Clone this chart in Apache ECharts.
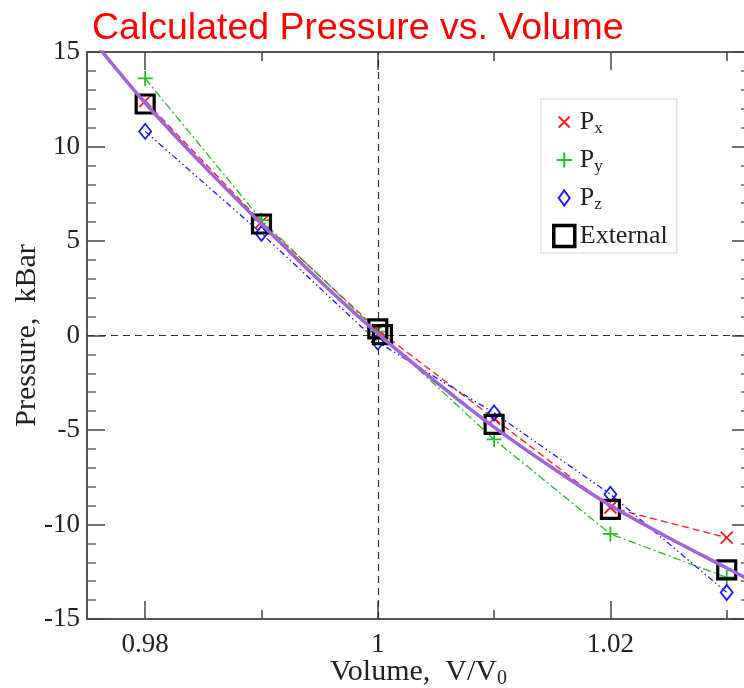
<!DOCTYPE html>
<html><head><meta charset="utf-8">
<script src="https://cdn.jsdelivr.net/npm/echarts@6/dist/echarts.min.js"></script>
<style>html,body{margin:0;padding:0;background:#fff}#c{width:744px;height:688px}</style>
</head><body><div id="c"></div>
<script>
// ---- data ----
const volumes = [0.98, 0.99, 1.0, 1.01, 1.02, 1.03];
const pxVals = [12.4, 6.0, 0.3, -4.4, -9.1, -10.7];
const pyVals = [13.6, 6.1, 0.2, -5.5, -10.5, -12.8];
const pzVals = [10.8, 5.4, -0.35, -4.1, -8.4, -13.6];
const extVolumes = [0.98, 0.99, 1.0, 1.0004, 1.01, 1.02, 1.03];
const extVals = [12.25, 5.9, 0.35, 0.05, -4.7, -9.2, -12.4];
const fitVolumes = [0.975, 0.98, 0.985, 0.99, 0.995, 1.0, 1.005, 1.01, 1.015, 1.02, 1.025, 1.03, 1.032];
const fitVals = [16.0, 12.3, 9.0, 5.9, 2.9, 0.1, -2.45, -4.85, -7.0, -9.0, -10.7, -12.3, -12.95];
const xMajorTicks = [0.98, 1.0, 1.02];
const xMinorTicks = [0.99, 1.01, 1.03];
const xRange = [0.975, 1.032];
const yRange = [-15, 15];
const yStep = 5;
const seriesNames = ['Px', 'Py', 'Pz', 'External'];

const zip = (a, b) => a.map((v, i) => [v, b[i]]);
const serif = '"Liberation Serif", "DejaVu Serif", serif';
const axisColor = '#555';
const RED = '#ff1a1a', GREEN = '#22bb22', BLUE = '#1a1aff', PURPLE = '#a064dc';

const gridRect = { left: 87, top: 52, width: 663, height: 567, outerBoundsMode: 'none', containLabel: false };

function xAxisDef(pos, gridIndex, ticks, len, main) {
  return {
    type: 'value', gridIndex, position: pos, min: xRange[0], max: xRange[1],
    axisLine: { show: main, onZero: false, lineStyle: { color: axisColor, width: 2 } },
    axisTick: { show: true, inside: true, length: len, customValues: ticks, lineStyle: { color: '#444', width: 1.5 } },
    axisLabel: (main && pos === 'bottom') ? {
      show: true, customValues: ticks, fontFamily: serif, fontSize: 27, color: '#222', margin: 12,
      formatter: v => String(+v.toFixed(4))
    } : { show: false },
    splitLine: { show: false },
    minorTick: { show: false }
  };
}
function yAxisDef(pos, gridIndex, show) {
  return {
    type: 'value', gridIndex, position: pos, min: yRange[0], max: yRange[1], interval: yStep, show,
    axisLine: { show: true, onZero: false, lineStyle: { color: axisColor, width: 2 } },
    axisTick: { show: true, inside: true, length: 18, lineStyle: { color: '#444', width: 1.5 } },
    minorTick: { show: true, splitNumber: 5, length: 9, lineStyle: { color: '#666', width: 1.5 } },
    axisLabel: pos === 'left' ? { show: true, fontFamily: serif, fontSize: 27, color: '#222', margin: 7 } : { show: false },
    splitLine: { show: false }
  };
}

const xAxes = [
  xAxisDef('bottom', 0, xMajorTicks, 18, true),
  xAxisDef('top', 0, xMajorTicks, 18, true),
  xAxisDef('bottom', 1, xMinorTicks, 9, false),
  xAxisDef('top', 1, xMinorTicks, 9, false)
];
Object.assign(xAxes[0], {
  name: '{n|Volume,  V/V}{s|0}', nameLocation: 'middle', nameGap: 36, nameMoveOverlap: false,
  nameTextStyle: { rich: {
    n: { fontFamily: serif, fontSize: 30, color: '#222', lineHeight: 34 },
    s: { fontFamily: serif, fontSize: 20, color: '#222', lineHeight: 2, verticalAlign: 'bottom' }
  } }
});
const yAxes = [yAxisDef('left', 0, true), yAxisDef('right', 0, true), yAxisDef('left', 1, false)];
Object.assign(yAxes[0], {
  name: 'Pressure,  kBar', nameLocation: 'middle', nameGap: 45, nameMoveOverlap: false,
  nameTextStyle: { fontFamily: serif, fontSize: 30, color: '#222' }
});

const symX = 'path://M0,0L10,10M10,0L0,10';
const symPlus = 'path://M5,0L5,10M0,5L10,5';
const legX = 'path://M0,0L0,0M5,5L16,16M16,5L5,16M21,21L21,21';
const legPlus = 'path://M0,0L0,0M10.5,3L10.5,18M3,10.5L18,10.5M21,21L21,21';
const legDiamond = 'path://M0,0L0,0M10.5,3L16,10.5L10.5,18L5,10.5ZM21,21L21,21';

function dashLine(name, vals, color, type, extra) {
  return Object.assign({
    name, type: 'line', data: zip(volumes, vals), symbol: 'none', z: 2,
    lineStyle: { color, width: 1.3, type }, itemStyle: { color }, silent: true
  }, extra || {});
}
function markers(name, vs, vals, symbol, size, color, bw, z) {
  return {
    name, type: 'scatter', data: zip(vs, vals), symbol, symbolSize: size, z: z || 4,
    itemStyle: { color: 'transparent', borderColor: color, borderWidth: bw, opacity: 1 }
  };
}

const option = {
  animation: false,
  backgroundColor: '#fff',
  title: {
    text: 'Calculated Pressure vs. Volume', left: 92, top: 10, padding: 0,
    textStyle: { fontFamily: '"Liberation Sans", Arial, sans-serif', fontSize: 37.5, fontWeight: 'normal', color: '#ff0000' }
  },
  grid: [Object.assign({}, gridRect), Object.assign({}, gridRect)],
  xAxis: xAxes,
  yAxis: yAxes,
  legend: {
    left: 541, top: 99, orient: 'vertical',
    padding: [10, 9, 4, 11], itemGap: 10, itemWidth: 21, itemHeight: 21,
    backgroundColor: '#fff', borderColor: '#e2e2e2', borderWidth: 1.5,
    selectedMode: false,
    data: [
      { name: seriesNames[0], icon: legX, itemStyle: { color: 'transparent', borderColor: RED, borderWidth: 2 } },
      { name: seriesNames[1], icon: legPlus, itemStyle: { color: 'transparent', borderColor: GREEN, borderWidth: 2 } },
      { name: seriesNames[2], icon: legDiamond, itemStyle: { color: 'transparent', borderColor: BLUE, borderWidth: 2 } },
      { name: seriesNames[3], icon: 'rect', itemStyle: { color: 'transparent', borderColor: '#000', borderWidth: 3.5 } }
    ],
    formatter: n => n === 'External' ? '{n|External}' : '{n|P}{s|' + n.slice(1) + '}',
    textStyle: { rich: {
      n: { fontFamily: serif, fontSize: 26, color: '#222', lineHeight: 30 },
      s: { fontFamily: serif, fontSize: 17, color: '#222', lineHeight: 2, verticalAlign: 'bottom' }
    } }
  },
  series: [
    dashLine('Px line', pxVals, RED, [7, 4], {
      markLine: {
        silent: true, symbol: ['none', 'none'], label: { show: false },
        lineStyle: { color: '#333', type: [7, 5], width: 1.2 },
        data: [{ xAxis: 1 }, { yAxis: 0 }]
      }
    }),
    dashLine('Py line', pyVals, GREEN, [8, 3, 2, 3]),
    dashLine('Pz line', pzVals, BLUE, [6, 3, 1.5, 3, 1.5, 3]),
    markers(seriesNames[0], volumes, pxVals, symX, 12, RED, 1.8),
    markers(seriesNames[1], volumes, pyVals, symPlus, 15, GREEN, 1.8),
    markers(seriesNames[2], volumes, pzVals, 'diamond', [12, 15], BLUE, 1.8),
    markers(seriesNames[3], extVolumes, extVals, 'rect', 18, '#000', 3.2, 5),
    {
      name: 'fit', type: 'line', data: zip(fitVolumes, fitVals), symbol: 'none', smooth: 0.3, z: 6,
      lineStyle: { color: PURPLE, width: 3.5 }, silent: true, clip: true
    }
  ]
};
const chart = echarts.init(document.getElementById('c'), null, { renderer: 'canvas' });
chart.setOption(option);
</script></body></html>
